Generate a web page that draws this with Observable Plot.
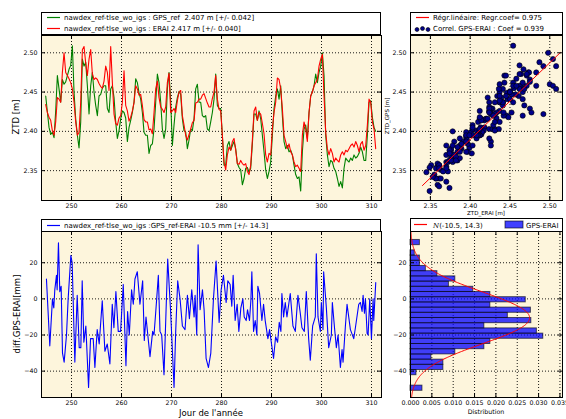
<!DOCTYPE html>
<html><head><meta charset="utf-8">
<script src="https://cdn.jsdelivr.net/npm/d3@7"></script>
<script src="https://cdn.jsdelivr.net/npm/@observablehq/plot@0.6"></script>
<style>
body{margin:0;background:#fff;}
#fig{position:relative;width:566px;height:419px;overflow:hidden;background:#fff;font-family:"DejaVu Sans",sans-serif;color:#000}
.lbl{position:absolute;white-space:nowrap;line-height:1;}
</style></head><body><div id="fig"></div>
<script>
// ---------------- data ----------------
const dayStart = 244.84;            // first sample (day of year)
const dayStep = 1 / 3;              // sampling step (days)
const gpsZtd = [
2.445,2.425,2.405,2.396,2.399,2.392,2.426,2.471,2.454,2.437,
2.466,2.460,2.463,2.471,2.479,2.484,2.509,2.450,2.416,2.395,
2.379,2.412,2.492,2.483,2.488,2.458,2.422,2.458,2.475,2.450,
2.433,2.420,2.445,2.447,2.455,2.458,2.458,2.429,2.424,2.454,
2.458,2.443,2.412,2.391,2.401,2.416,2.426,2.424,2.417,2.387,
2.405,2.414,2.424,2.437,2.467,2.462,2.449,2.441,2.424,2.399,
2.395,2.395,2.372,2.382,2.384,
2.403,2.437,2.473,2.462,2.437,2.403,2.391,2.403,2.454,2.475,
2.437,2.382,2.408,2.431,2.443,2.451,2.447,2.416,2.401,2.399,
2.378,2.389,2.403,2.401,2.416,2.454,2.460,2.437,2.437,2.420,
2.418,2.420,2.403,2.401,2.412,2.424,2.441,2.473,2.433,2.429,
2.429,2.395,2.357,2.357,2.382,2.387,2.376,2.382,2.387,2.378,
2.359,2.354,2.351,2.332,2.340,2.353,2.354,2.348,2.353,2.384,
2.422,2.422,2.414,2.426,2.416,2.395,2.374,2.351,
2.340,2.349,2.361,2.395,2.429,2.445,2.454,2.441,2.458,2.420,
2.387,2.378,2.382,2.374,2.376,2.370,2.357,2.345,2.340,2.342,
2.324,2.374,2.403,2.408,2.391,2.424,2.445,2.450,2.458,2.473,
2.462,2.475,2.483,2.500,2.471,2.395,2.370,2.355,2.363,2.361,
2.353,2.349,2.340,2.330,2.336,2.328,2.353,2.366,2.363,2.361,
2.366,2.363,2.370,2.366,2.368,2.372,2.380,2.374,2.363,2.363,
2.395,2.437,2.439,2.418,2.405,2.400];
const eraiZtd = [
2.434,2.424,2.418,2.414,2.401,2.395,2.412,2.443,2.441,2.437,
2.475,2.500,2.475,2.471,2.467,2.462,2.454,2.437,2.412,2.395,
2.399,2.437,2.504,2.508,2.487,2.471,2.492,2.504,2.473,2.466,
2.468,2.466,2.461,2.457,2.455,2.464,2.483,2.475,2.452,2.508,
2.462,2.422,2.410,2.408,2.417,2.420,2.437,2.477,2.433,2.426,
2.413,2.418,2.426,2.437,2.458,2.454,2.446,2.447,2.433,2.415,
2.412,2.412,2.402,2.403,2.397,
2.424,2.454,2.464,2.443,2.431,2.428,2.424,2.431,2.462,2.474,
2.424,2.426,2.429,2.424,2.439,2.450,2.452,2.420,2.408,2.395,
2.389,2.396,2.403,2.411,2.414,2.436,2.437,2.441,2.441,2.446,
2.448,2.442,2.436,2.431,2.431,2.442,2.450,2.471,2.441,2.428,
2.426,2.395,2.361,2.351,2.370,2.380,2.376,2.387,2.391,2.376,
2.359,2.358,2.363,2.359,2.357,2.359,2.349,2.345,2.357,2.389,
2.426,2.431,2.414,2.424,2.422,2.410,2.397,2.370,
2.361,2.372,2.370,2.403,2.424,2.437,2.468,2.466,2.454,2.429,
2.395,2.387,2.378,2.384,2.374,2.370,2.361,2.355,2.357,2.353,
2.349,2.395,2.412,2.403,2.387,2.424,2.445,2.450,2.458,2.462,
2.466,2.483,2.492,2.498,2.445,2.399,2.378,2.370,2.378,2.372,
2.361,2.366,2.363,2.361,2.370,2.374,2.370,2.376,2.374,2.378,
2.382,2.384,2.380,2.387,2.382,2.374,2.384,2.387,2.376,2.382,
2.408,2.441,2.437,2.412,2.403,2.378];
// GPS - ERAI difference [mm]: [day, value]
const diffSeries = [
[244.99,11],[245.66,-26],[246.19,0],[246.46,-5],[246.66,5],[246.99,13],[247.13,5],[247.39,31],[247.66,4],[247.93,7],
[248.20,-30],[248.53,-35],[249.00,-20],[249.33,0],[249.87,24],[250.13,20],[250.67,-35],[251.14,2],[251.54,-27],[251.87,-27],
[252.14,10],[252.47,-24],[252.87,-15],[253.41,-49],[253.81,-22],[254.34,-22],[254.68,-38],[255.14,-17],[255.54,-25],[256.15,-1],
[256.68,-29],[257.15,-25],[257.68,-36],[258.15,-3],[258.48,-16],[258.88,4],[259.35,-18],[259.82,-18],[260.35,8],[260.89,-37],
[261.22,-7],[261.56,-20],[262.02,5],[262.36,-3],[262.69,11],[263.16,15],[263.69,-3],[264.23,10],[264.56,-23],[264.90,-10],
[265.70,-32],[266.23,-18],[266.50,-20],[266.83,-8],[267.37,13],[267.70,-18],[268.04,-20],[268.50,-42],[269.24,22],[269.84,-8],
[270.51,-49],[270.84,-18],[271.24,10],[271.71,0],[272.18,-15],[272.71,-17],[273.18,2],[273.58,-11],[274.05,5],[274.52,-10],
[274.72,2],[275.05,-20],[275.32,30],[275.72,-6],[276.19,5],[276.52,-6],[276.92,-33],[277.39,-38],[277.86,-30],[278.39,0],
[278.92,21],[279.53,-13],[279.93,5],[280.39,13],[280.93,-2],[281.26,10],[281.73,8],[282.06,-4],[282.33,13],[282.73,-12],
[283.13,-3],[283.47,-18],[283.87,-5],[284.27,0],[284.54,-10],[284.94,-12],[285.20,-6],[285.60,-12],[285.87,-1],[286.07,15],
[286.41,-18],[286.74,-12],[287.07,-20],[287.27,7],[287.61,3],[288.08,-12],[288.41,-3],[288.74,-12],[289.28,-22],[289.61,-17],
[290.41,-33],[290.82,-21],[291.22,-24],[291.55,-13],[291.88,-18],[292.08,3],[292.42,-10],[292.75,-2],[293.09,-10],[293.75,3],
[294.29,-15],[294.76,-18],[295.29,2],[295.76,-8],[296.09,-16],[296.56,-18],[296.96,4],[297.43,-22],[297.76,-34],[298.23,-15],
[298.76,-10],[298.96,25],[299.30,-10],[299.77,-18],[299.97,-2],[300.30,-17],[300.43,15],[300.97,-5],[301.44,-27],[301.97,-20],
[302.17,-2],[302.57,-15],[302.97,-27],[303.31,-20],[303.78,-38],[304.11,-28],[304.31,-35],[304.78,-15],[305.11,-3],[305.78,-17],
[306.45,-22],[306.78,-16],[307.45,-3],[307.78,-2],[308.12,-7],[308.32,2],[308.59,-8],[308.79,0],[309.12,-19],[309.32,-20],
[309.65,0],[309.99,-22],[310.32,0],[310.45,-12],[310.85,9]];
// histogram of the difference (density per bin, from lowest bin up)
const histLow = -50.9, histWidth = 2.88;
const histDensity = [0.0028,0,0,0.0014,0.0077,0.0077,0.0049,0.0105,0.0173,0.0187,
0.0311,0.0296,0.0173,0.0283,0.0228,0.0282,0.0187,0.0270,0.0187,0.0147,
0.0090,0.0105,0.0063,0.0036,0.0022,0.0022,0.0010,0,0.0022];
const diffMean = -10.5, diffStd = 14.3;
// regression line end points (ERAI, GPS)
const regErai = [2.340, 2.513];
const regGps = [2.331, 2.500];
// ticks
const dayTicks = [250, 260, 270, 280, 290, 300, 310];
const ztdTicks = [2.35, 2.40, 2.45, 2.50];
const diffTicks = [-40, -20, 0, 20];
const densTicks = [0, 0.005, 0.010, 0.015, 0.020, 0.025, 0.030, 0.035];

// ---------------- drawing ----------------
const fig = document.getElementById("fig");
const bg = "#fdf5dc";
const FONT = "DejaVu Sans, sans-serif";
const days = gpsZtd.map((_, i) => dayStart + i * dayStep);
const ts = days.map((d, i) => ({day: d, gps: gpsZtd[i], erai: eraiZtd[i]}));
const diff = diffSeries.map(([day, v]) => ({day, v}));
const hist = histDensity.map((d, i) => ({lo: histLow + i * histWidth, hi: histLow + (i + 1) * histWidth, d}));

function place(node, left, top) {
  node.style.position = "absolute";
  node.style.left = left + "px";
  node.style.top = top + "px";
  fig.appendChild(node);
}

function panel({left, top, width, height, ml, mr, mt, mb, x, y, xTicks, yTicks, xFmt, yFmt, marks}) {
  const fw = width - ml - mr, fh = height - mt - mb, L = 4;
  const p = Plot.plot({
    width, height, marginLeft: ml, marginRight: mr, marginTop: mt, marginBottom: mb,
    style: {background: "transparent", fontFamily: FONT, fontSize: "6.3px", color: "#000", overflow: "visible"},
    x: {...x, ticks: xTicks, tickSize: 0, tickPadding: 3, tickFormat: xFmt, label: null},
    y: {...y, ticks: yTicks, tickSize: 0, tickPadding: 4, tickFormat: yFmt, label: null},
    marks: [
      Plot.frame({fill: bg, stroke: "none"}),
      Plot.ruleX(xTicks, {x: d => d, stroke: "#000", strokeDasharray: "1,2", strokeWidth: 0.9}),
      Plot.ruleY(yTicks, {y: d => d, stroke: "#000", strokeDasharray: "1,2", strokeWidth: 0.9}),
      ...marks,
      Plot.tickX(xTicks, {x: d => d, insetTop: fh - L, stroke: "#000"}),
      Plot.tickX(xTicks, {x: d => d, insetBottom: fh - L, stroke: "#000"}),
      Plot.tickY(yTicks, {y: d => d, insetLeft: fw - L, stroke: "#000"}),
      Plot.tickY(yTicks, {y: d => d, insetRight: fw - L, stroke: "#000"}),
      Plot.frame({stroke: "#000", strokeWidth: 1})
    ]
  });
  place(p, left, top);
}

function label(text, cx, cy, size, rotate) {
  const d = document.createElement("div");
  d.className = "lbl";
  d.textContent = text;
  d.style.fontSize = size + "px";
  d.style.left = cx + "px";
  d.style.top = cy + "px";
  d.style.transform = "translate(-50%,-50%)" + (rotate ? " rotate(-90deg)" : "");
  fig.appendChild(d);
}

function legend(x, y, w, h, draw) {
  const svg = d3.create("svg").attr("width", w).attr("height", h)
    .style("font-family", FONT).style("font-size", "7px");
  svg.append("rect").attr("x", 0.5).attr("y", 0.5).attr("width", w - 1).attr("height", h - 1)
    .attr("fill", "#fff").attr("stroke", "#000").attr("stroke-width", 1);
  draw(svg);
  place(svg.node(), x, y);
}

const fmt2 = d3.format(".2f");

// axis labels under legends first
label("ZTD_ERAI [m]", 486, 214, 5.5, false);

// Panel 1: time series ZTD
panel({left: 0, top: 0, width: 390, height: 216, ml: 41, mr: 9, mt: 35, mb: 16,
  x: {domain: [244, 312]}, y: {domain: [2.312, 2.522]},
  xTicks: dayTicks, yTicks: ztdTicks, xFmt: d => String(d), yFmt: fmt2,
  marks: [
    Plot.line(ts, {x: "day", y: "gps", stroke: "#008000", strokeWidth: 1.1}),
    Plot.line(ts, {x: "day", y: "erai", stroke: "#ff0000", strokeWidth: 1.1})
  ]});

// Panel 2: scatter
panel({left: 390, top: 0, width: 176, height: 216, ml: 20, mr: 4, mt: 35, mb: 16,
  x: {domain: [2.325, 2.516]}, y: {domain: [2.312, 2.522]},
  xTicks: ztdTicks, yTicks: ztdTicks, xFmt: fmt2, yFmt: fmt2,
  marks: [
    Plot.dot(ts, {x: "erai", y: "gps", r: 2.6, fill: "#00008b", stroke: "#000", strokeWidth: 0.6}),
    Plot.line(regErai.map((e, i) => ({e, g: regGps[i]})), {x: "e", y: "g", stroke: "#ff0000", strokeWidth: 1})
  ]});

// Panel 3: difference
panel({left: 0, top: 216, width: 390, height: 203, ml: 41, mr: 9, mt: 15, mb: 22,
  x: {domain: [244, 312]}, y: {domain: [-54.6, 37.3]},
  xTicks: dayTicks, yTicks: diffTicks, xFmt: d => String(d), yFmt: d3.format("d"),
  marks: [
    Plot.line(diff, {x: "day", y: "v", stroke: "#0000ff", strokeWidth: 1.1})
  ]});

// Panel 4: histogram
const ys = d3.range(-54.6, 37.31, 0.3);
const pdf = ys.map(v => ({v, p: Math.exp(-0.5 * ((v - diffMean) / diffStd) ** 2) / (diffStd * Math.sqrt(2 * Math.PI))}));
panel({left: 390, top: 216, width: 176, height: 203, ml: 20, mr: 4, mt: 15, mb: 22,
  x: {domain: [0, 0.0356]}, y: {domain: [-54.6, 37.3]},
  xTicks: densTicks, yTicks: diffTicks, xFmt: d3.format(".3f"), yFmt: d3.format("d"),
  marks: [
    Plot.rect(hist.filter(d => d.d > 0), {x1: () => 0, x2: "d", y1: "lo", y2: "hi",
      fill: "#0000ff", fillOpacity: 0.75, stroke: "#000", strokeOpacity: 0.6, strokeWidth: 1}),
    Plot.line(pdf, {x: "p", y: "v", stroke: "#ff0000", strokeWidth: 1})
  ]});

// axis labels
label("ZTD [m]", 16, 117, 8.5, true);
label("ZTD_GPS [m]", 388, 116, 5.5, true);
label("diff.GPS-ERAI[mm]", 17, 314, 8.5, true);
label("Jour de l'année", 211, 413, 8.5, false);
label("Distribution", 486, 412, 6.3, false);

// legends
legend(41, 12, 340, 23, svg => {
  svg.append("line").attr("x1", 6).attr("x2", 19).attr("y1", 5.5).attr("y2", 5.5).attr("stroke", "#008000").attr("stroke-width", 1.2);
  svg.append("line").attr("x1", 6).attr("x2", 19).attr("y1", 16.5).attr("y2", 16.5).attr("stroke", "#ff0000").attr("stroke-width", 1.2);
  svg.append("text").attr("x", 23).attr("y", 8).text("nawdex_ref-tlse_wo_igs : GPS_ref  2.407 m [+/- 0.042]").style("white-space", "pre");
  svg.append("text").attr("x", 23).attr("y", 19).text("nawdex_ref-tlse_wo_igs : ERAI 2.417 m [+/- 0.040]");
});
legend(410, 12, 153, 23, svg => {
  svg.append("line").attr("x1", 6).attr("x2", 19).attr("y1", 5.5).attr("y2", 5.5).attr("stroke", "#ff0000").attr("stroke-width", 1.2);
  [[7, 17.5], [12.5, 16.5], [18, 17.5]].forEach(([cx, cy]) =>
    svg.append("circle").attr("cx", cx).attr("cy", cy).attr("r", 2).attr("fill", "#00008b").attr("stroke", "#000").attr("stroke-width", 0.6));
  svg.append("text").attr("x", 23).attr("y", 8).text("Régr.linéaire: Regr.coef= 0.975");
  svg.append("text").attr("x", 23).attr("y", 19).text("Correl. GPS-ERAI : Coef = 0.939");
});
legend(41, 219, 340, 13, svg => {
  svg.append("line").attr("x1", 6).attr("x2", 19).attr("y1", 6.5).attr("y2", 6.5).attr("stroke", "#0000ff").attr("stroke-width", 1.2);
  svg.append("text").attr("x", 23).attr("y", 9).text("nawdex_ref-tlse_wo_igs :GPS_ref-ERAI -10.5 mm [+/- 14.3]");
});
legend(410, 218, 153, 14, svg => {
  svg.append("line").attr("x1", 4).attr("x2", 17).attr("y1", 6.5).attr("y2", 6.5).attr("stroke", "#ff0000").attr("stroke-width", 1.2);
  const t = svg.append("text").attr("x", 23).attr("y", 9.5);
  t.append("tspan").style("font-family", "DejaVu Serif, serif").style("font-style", "italic").text("N");
  t.append("tspan").text("(-10.5, 14.3)");
  svg.append("rect").attr("x", 95).attr("y", 3).attr("width", 18).attr("height", 7).attr("fill", "#0000ff").attr("fill-opacity", 0.75).attr("stroke", "#000").attr("stroke-opacity", 0.6);
  svg.append("text").attr("x", 116).attr("y", 9.5).text("GPS-ERAI");
});
</script></body></html>
